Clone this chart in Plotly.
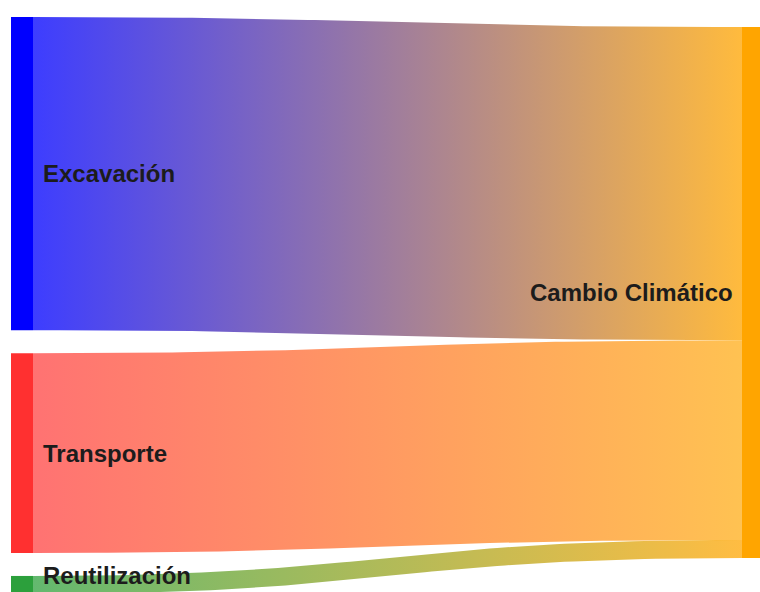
import numpy as np
import plotly.graph_objects as go

# --- data -------------------------------------------------------------
node_labels = ["Excavación", "Transporte", "Reutilización", "Cambio Climático"]
link_source = [0, 1, 2]
link_target = [3, 3, 3]
link_values = [59.0, 37.6, 3.4]          # % share of climate-change impact

# --- styling ------------------------------------------------------------
node_rgb = [(0, 0, 255), (255, 48, 48), (44, 160, 60), (255, 165, 0)]
link_alpha = [0.76, 0.68, 0.74]

W, H = 760, 592
node_w_left = (11, 33)
node_w_right = (742, 760)
px_per_unit = 5.31
pad = 23
left_top = 17
right_top = 27
label_size = 24


def rgba(c, a):
    return f"rgba({c[0]},{c[1]},{c[2]},{a})"


# node extents (in pixel space of the axes) derived from the link values
n = len(node_labels)
node_in = [0.0] * n
node_out = [0.0] * n
for s, t, v in zip(link_source, link_target, link_values):
    node_out[s] += v
    node_in[t] += v

node_pos = {}
y = left_top
for i in range(n):
    if node_out[i] > 0:
        h = node_out[i] * px_per_unit
        node_pos[i] = (node_w_left[0], node_w_left[1], y, y + h)
        y += h + pad
y = right_top
for i in range(n):
    if node_out[i] == 0:
        h = node_in[i] * px_per_unit
        node_pos[i] = (node_w_right[0], node_w_right[1], y, y + h)
        y += h + pad

fig = go.Figure()

# links: ribbons bounded by two cubic Bézier curves, filled with a
# horizontal gradient from source colour to target colour
src_off = {i: node_pos[i][2] for i in node_pos}
tgt_off = {i: node_pos[i][2] for i in node_pos}
t = np.linspace(0, 1, 80)
for k, (s, tg, v) in enumerate(zip(link_source, link_target, link_values)):
    h = v * px_per_unit
    x0 = node_pos[s][1]
    x1 = node_pos[tg][0]
    sy0 = src_off[s]
    ty0 = tgt_off[tg]
    src_off[s] += h
    tgt_off[tg] += h
    xm = (x0 + x1) / 2
    bx = (1 - t) ** 3 * x0 + 3 * (1 - t) ** 2 * t * xm + 3 * (1 - t) * t ** 2 * xm + t ** 3 * x1
    ease = 3 * t ** 2 - 2 * t ** 3
    top = sy0 + (ty0 - sy0) * ease
    bot = top + h
    xs = np.concatenate([bx, bx[::-1], [bx[0]]])
    ys = np.concatenate([top, bot[::-1], [top[0]]])
    a = link_alpha[k]
    fig.add_trace(go.Scatter(
        x=xs, y=ys, mode="lines", fill="toself",
        line=dict(width=0, color="rgba(0,0,0,0)"),
        fillgradient=dict(
            type="horizontal",
            colorscale=[[0, rgba(node_rgb[s], a)], [1, rgba(node_rgb[tg], a)]],
        ),
        name=f"{node_labels[s]} → {node_labels[tg]}",
        hoverinfo="name", showlegend=False,
    ))

# nodes
for i, (xa, xb, ya, yb) in node_pos.items():
    fig.add_shape(type="rect", xref="x", yref="y", x0=xa, x1=xb, y0=ya, y1=yb,
                  line=dict(width=0), fillcolor=rgba(node_rgb[i], 1))

# labels (kept inside the canvas when a node runs past the bottom edge)
for i, (xa, xb, ya, yb) in node_pos.items():
    left_side = node_out[i] > 0
    yc = min((ya + yb) / 2, H - 0.7 * label_size)
    fig.add_annotation(
        x=xb + 8 if left_side else xa - 7, y=yc,
        xref="x", yref="y", text=node_labels[i], showarrow=False,
        xanchor="left" if left_side else "right", yanchor="middle",
        font=dict(family="Liberation Sans, Arial, sans-serif", size=label_size,
                  color="#1c1c1c", weight="bold"),
    )

fig.update_layout(
    width=W, height=H, margin=dict(l=0, r=0, t=0, b=0),
    paper_bgcolor="white", plot_bgcolor="white",
    xaxis=dict(range=[0, W], visible=False, fixedrange=True),
    yaxis=dict(range=[H, 0], visible=False, fixedrange=True),
)

fig.write_html("out.html")
